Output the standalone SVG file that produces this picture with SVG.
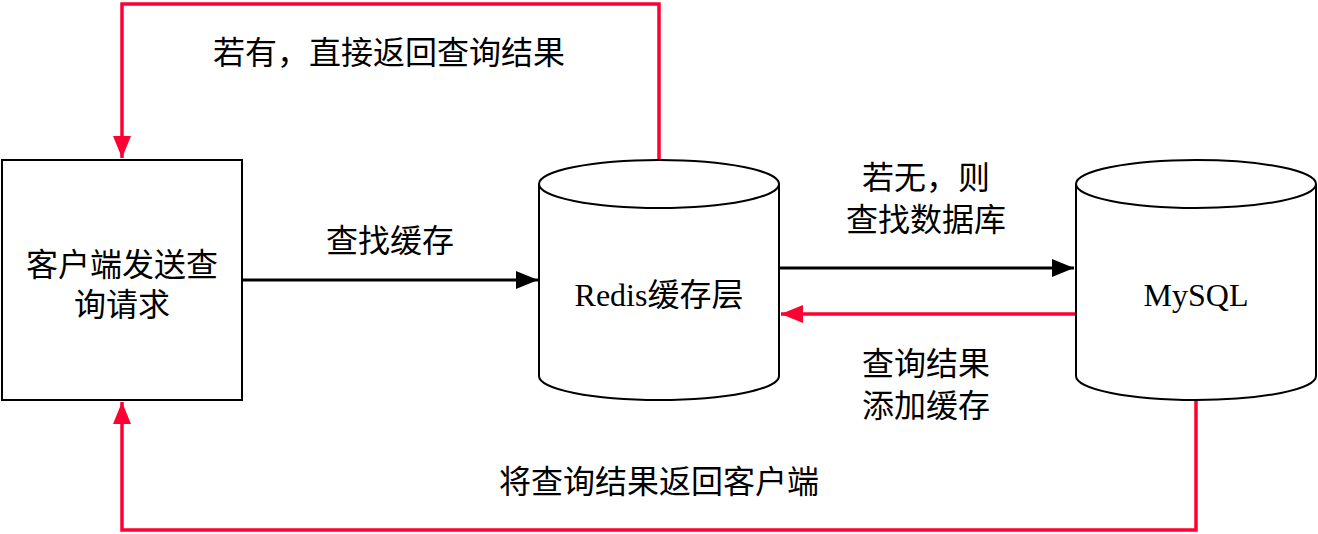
<svg xmlns="http://www.w3.org/2000/svg" width="1318" height="534" viewBox="0 0 1318 534">
<style>
.t{font-family:"Liberation Serif","Noto Sans CJK SC",serif;font-size:32px;fill:#000;text-anchor:middle}
.shape{fill:#fff;stroke:#000;stroke-width:2}
.blk{fill:none;stroke:#000;stroke-width:3}
.red{fill:none;stroke:#ff0033;stroke-width:3.5}
</style>
<defs>
<marker id="ab" markerUnits="userSpaceOnUse" markerWidth="24" markerHeight="20" refX="22" refY="9" orient="auto"><path d="M0,0 L22,9 L0,18 Z" fill="#000"/></marker>
<marker id="ar" markerUnits="userSpaceOnUse" markerWidth="24" markerHeight="20" refX="22" refY="9" orient="auto"><path d="M0,0 L22,9 L0,18 Z" fill="#ff0033"/></marker>
</defs>
<g id="connectors">
<path class="red" d="M659,160 V4 H122 V158" marker-end="url(#ar)"/>
<path class="blk" d="M242,280 H538" marker-end="url(#ab)"/>
<path class="blk" d="M779,268 H1074" marker-end="url(#ab)"/>
<path class="red" d="M1076,314 H781" marker-end="url(#ar)"/>
<path class="red" d="M1196,400 V530 H122 V402" marker-end="url(#ar)"/>
</g>
<g id="client">
<rect class="shape" x="2" y="160" width="240" height="240"/>
<text class="t" x="122" y="276">客户端发送查</text>
<text class="t" x="122" y="316">询请求</text>
</g>
<g id="redis">
<path class="shape" d="M539,184 A120,24 0 0 1 779,184 V376 A120,24 0 0 1 539,376 Z"/>
<path class="shape" fill="none" d="M539,184 A120,24 0 0 0 779,184"/>
<text class="t" x="659" y="306">Redis缓存层</text>
</g>
<g id="mysql">
<path class="shape" d="M1076,184 A120,24 0 0 1 1316,184 V376 A120,24 0 0 1 1076,376 Z"/>
<path class="shape" fill="none" d="M1076,184 A120,24 0 0 0 1316,184"/>
<text class="t" x="1196" y="306">MySQL</text>
</g>
<g id="labels">
<text class="t" x="389" y="64">若有，直接返回查询结果</text>
<text class="t" x="390" y="252">查找缓存</text>
<text class="t" x="926" y="189">若无，则</text>
<text class="t" x="926" y="231">查找数据库</text>
<text class="t" x="926" y="375">查询结果</text>
<text class="t" x="926" y="417">添加缓存</text>
<text class="t" x="659" y="493">将查询结果返回客户端</text>
</g>
</svg>
